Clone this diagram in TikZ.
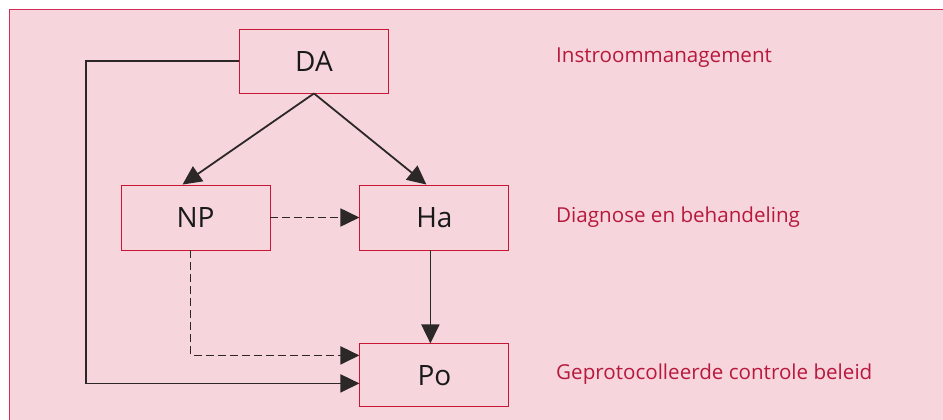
\documentclass[tikz,border=0pt]{standalone}
\usepackage{fontspec}
\setmainfont{Open Sans}
\usepackage{xcolor}
\usetikzlibrary{positioning, arrows.meta, calc}
\definecolor{bgpink}{RGB}{246,214,220}
\definecolor{framered}{RGB}{214,44,86}
\definecolor{boxred}{RGB}{200,22,52}
\definecolor{lblred}{RGB}{184,24,60}
\definecolor{arrowgray}{RGB}{44,40,40}

\begin{document}
\begin{tikzpicture}[
  x=1pt, y=-1pt,
  stage/.style={draw=boxred, line width=0.9pt, minimum width=149pt,
              minimum height=64pt, inner sep=0pt, font=\fontsize{28}{30}\selectfont,
              text=black!90},
  lbl/.style={anchor=west, inner sep=0pt, text=lblred,
              font=\fontsize{20.6}{23}\selectfont},
  flow/.style={->, line width=1.8pt, draw=arrowgray},
  maybe/.style={flow, dash pattern=on 8pt off 4pt},
  >={Triangle[length=19pt, width=18pt]}
]
  % background panel
  \useasboundingbox (0,0) rectangle (943,420);
  \fill[bgpink] (9.5,9.5) rectangle (943,420);
  \draw[framered, line width=1.8pt] (943,9.5) -- (9.5,9.5) -- (9.5,420);

  % Boxes
  \node[stage] (DA) at (314,61) {DA};
  \node[stage, minimum height=65pt] (NP) at (195.5,217.5) {NP};
  \node[stage, minimum height=65pt, right=89pt of NP] (Ha) {Ha};
  \node[stage, minimum height=63pt, below=93pt of Ha] (Po) {Po};

  % Arrows
  \draw[flow] (DA.south) -- ([xshift=-13pt]NP.north);
  \draw[flow] (DA.south) -- ([xshift=-8pt]Ha.north);
  \draw[maybe] (NP) -- (Ha);
  \draw[flow] ([xshift=-4pt]Ha.south) -- ([xshift=-4pt]Po.north);
  \draw[maybe] ([xshift=-5pt]NP.south) |- ([yshift=20pt]Po.west);
  \draw[flow] (DA.west) -- ++(-153,0) |- ([yshift=-8pt]Po.west);

  % Labels
  \coordinate (lblx) at (556,0);
  \node[lbl] (lblDA) at ($(lblx |- DA)+(0,-3)$) {Instroommanagement};
  \node[lbl] (lblHa) at (lblx |- Ha) {Diagnose en behandeling};
  \node[lbl] (lblPo) at ($(lblx |- Po)+(0,-1)$) {Geprotocolleerde controle beleid};
\end{tikzpicture}
\end{document}
